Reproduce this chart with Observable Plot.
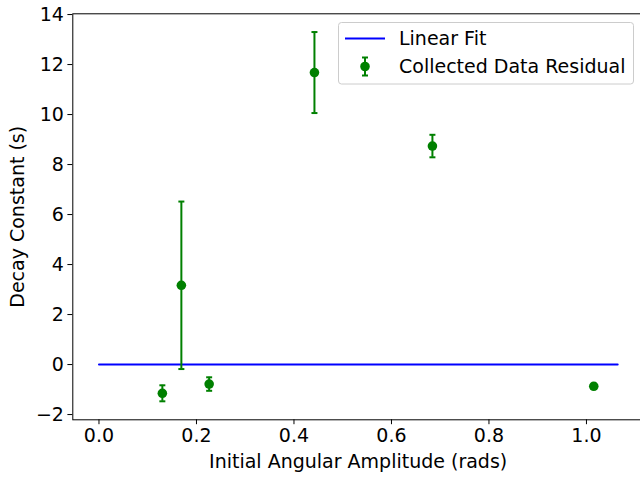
<!DOCTYPE html>
<html>
<head>
<meta charset="utf-8">
<script src="https://cdn.jsdelivr.net/npm/d3@7"></script>
<script src="https://cdn.jsdelivr.net/npm/@observablehq/plot@0.6"></script>
<style>
  html, body { margin: 0; padding: 0; background: #fff; overflow: hidden; width: 640px; height: 479px; }
  #chart { position: relative; width: 640px; height: 479px; overflow: hidden; }
  #chart svg { font-family: "DejaVu Sans", sans-serif; }
  #legend { position: absolute; left: 0; top: 0; pointer-events: none; }
</style>
</head>
<body>
<div id="chart"></div>
<script>
// Data
const amplitude = [0.130, 0.169, 0.226, 0.442, 0.684, 1.015];
const residual  = [-1.15, 3.17, -0.78, 11.68, 8.74, -0.87];
const errorBar  = [0.32, 3.35, 0.27, 1.62, 0.45, 0.10];
const fitX = [0.0, 1.064];
const fitY = [0.0, 0.0];
const xTicks = [0.0, 0.2, 0.4, 0.6, 0.8, 1.0];
const yTicks = [-2, 0, 2, 4, 6, 8, 10, 12, 14];
const seriesNames = ["Linear Fit", "Collected Data Residual"];

const points = amplitude.map((x, i) => ({x, y: residual[i], lo: residual[i] - errorBar[i], hi: residual[i] + errorBar[i]}));
const fit = fitX.map((x, i) => ({x, y: fitY[i]}));

const capSymbol = {
  draw(context, size) {
    const w = Math.sqrt(size / Math.PI);
    context.moveTo(-w, 0);
    context.lineTo(w, 0);
  }
};

const green = "#008000";
const blue = "#0000ff";
const fs = 19;

const chart = Plot.plot({
  width: 646,
  height: 479,
  marginLeft: 72.3,
  marginRight: 3,
  marginTop: 13.3,
  marginBottom: 59.7,
  style: {fontFamily: "DejaVu Sans, sans-serif", fontSize: fs + "px", color: "#000", background: "transparent", maxWidth: "none"},
  x: {domain: [-0.0537, 1.117]},
  y: {domain: [-2.21, 14.03]},
  marks: [
    Plot.axisX({ticks: xTicks, tickFormat: d3.format(".1f"), tickSize: 4.9, tickPadding: 4, fontSize: fs,
      label: "Initial Angular Amplitude (rads)", labelAnchor: "center", labelArrow: "none", labelOffset: 48}),
    Plot.axisY({ticks: yTicks, tickFormat: d => d3.format("d")(d), tickSize: 4.9, tickPadding: 4, fontSize: fs,
      label: "Decay Constant (s)", labelAnchor: "center", labelArrow: "none", labelOffset: 62}),
    Plot.line(fit, {x: "x", y: "y", stroke: blue, strokeWidth: 2}),
    Plot.ruleX(points, {x: "x", y1: "lo", y2: "hi", stroke: green, strokeWidth: 2}),
    Plot.dot(points, {x: "x", y: "lo", symbol: capSymbol, r: 3, stroke: green, strokeWidth: 2, fill: "none"}),
    Plot.dot(points, {x: "x", y: "hi", symbol: capSymbol, r: 3, stroke: green, strokeWidth: 2, fill: "none"}),
    Plot.dot(points, {x: "x", y: "y", r: 4.8, fill: green, stroke: "none"}),
    Plot.frame({stroke: "#000", strokeWidth: 1})
  ]
});
chart.style.display = "block";
chart.style.maxWidth = "none";
document.getElementById("chart").appendChild(chart);

// Legend (matplotlib-style box in upper right)
const ns = "http://www.w3.org/2000/svg";
const leg = document.createElementNS(ns, "svg");
leg.setAttribute("id", "legend");
leg.setAttribute("width", 640);
leg.setAttribute("height", 100);
leg.innerHTML = `
  <rect x="338.5" y="22.5" width="295" height="61.5" rx="3" ry="3" fill="rgba(255,255,255,0.8)" stroke="#cccccc" stroke-width="1"/>
  <line x1="345" y1="38.5" x2="385" y2="38.5" stroke="${blue}" stroke-width="2"/>
  <line x1="365" y1="57.5" x2="365" y2="75.5" stroke="${green}" stroke-width="2"/>
  <line x1="362" y1="57.5" x2="368" y2="57.5" stroke="${green}" stroke-width="2"/>
  <line x1="362" y1="75.5" x2="368" y2="75.5" stroke="${green}" stroke-width="2"/>
  <circle cx="365" cy="66.5" r="4.8" fill="${green}"/>
  <text x="399" y="38.5" dy="0.36em" font-family="DejaVu Sans, sans-serif" font-size="${fs}" fill="#000">${seriesNames[0]}</text>
  <text x="399" y="66.5" dy="0.36em" font-family="DejaVu Sans, sans-serif" font-size="${fs}" fill="#000">${seriesNames[1]}</text>
`;
document.getElementById("chart").appendChild(leg);
</script>
</body>
</html>
